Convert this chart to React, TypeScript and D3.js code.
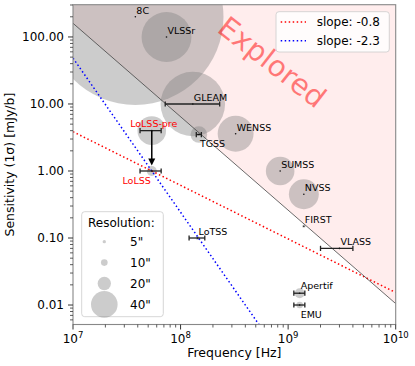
import React from 'react';
import * as d3 from 'd3';

// survey table (frequencies in MHz, sensitivity in mJy/beam, resolution in arcsec)
const surveys = ['8C', 'VLSSr', 'GLEAM', 'TGSS', 'WENSS', 'SUMSS', 'NVSS', 'FIRST', 'VLASS', 'LoTSS', 'LoLSS-pre', 'LoLSS', 'Apertif', 'EMU'];
const freqMHz = [38, 74, 130, 148, 325, 843, 1400, 1400, 3000, 144, 54, 54, 1280, 1280];
const freqLoMHz = [null, null, 72, 140, null, null, null, null, 2000, 120, 42, 42, 1130, 1130];
const freqHiMHz = [null, null, 231, 156, null, null, null, null, 4000, 168, 66, 66, 1430, 1430];
const sensitivity = [200, 100, 10, 3.5, 3.6, 1.0, 0.45, 0.15, 0.07, 0.1, 4, 1, 0.015, 0.01];
const resolution = [265, 75, 97, 25, 54, 43, 45, 5, 2.5, 6, 43, 15, 15, 10];

// edge of the explored region
const exploredFreq = [1e7, 1e10];
const exploredSens = [160, 0.0105];

// reference power laws through LoLSS
const slopes = [-0.8, -2.3];
const slopeColors = ['red', 'blue'];
const pivotFreq = 54e6;
const pivotSens = 1;

const legendRes = [5, 10, 20, 40];
const xMajor = [1e7, 1e8, 1e9, 1e10];
const yMajor = [100, 10, 1, 0.1, 0.01];

const W = 415;
const H = 366;
const left = 73, right = 395.7, top = 4.7, bottom = 324.5;

const x = d3.scaleLog().domain([1e7, 1e10]).range([left, right]);
const y = d3.scaleLog().domain([0.00512, 303]).range([bottom, top]);
const rScale = d3.scaleLinear().domain([0, 40]).range([0, 13.3]);

// where each label sits relative to its point
const labelPos: Record<string, { dx: number; dy: number; anchor: string; color: string }> = {
  TGSS: { dx: 1, dy: 12, anchor: 'start', color: '#000' },
  EMU: { dx: 1, dy: 13, anchor: 'start', color: '#000' },
  Apertif: { dx: 1, dy: -4, anchor: 'start', color: '#000' },
  'LoLSS-pre': { dx: 2, dy: -4, anchor: 'middle', color: 'red' },
  LoLSS: { dx: -1, dy: 13, anchor: 'end', color: 'red' },
};
const defaultPos = { dx: 1, dy: -3, anchor: 'start', color: '#000' };

const font = 'DejaVu Sans, sans-serif';

export default function App() {
  const line = d3.line<[number, number]>().x(d => x(d[0])).y(d => y(d[1]));
  const explored = d3.zip(exploredFreq, exploredSens) as [number, number][];
  const regionPath =
    line(explored) +
    `L${x(exploredFreq[1])},${top}L${x(exploredFreq[0])},${top}Z`;

  const allTicksX = x.ticks();
  const allTicksY = y.ticks();
  const isMajor = (v: number) => Math.abs(Math.log10(v) - Math.round(Math.log10(v))) < 1e-6;

  const idxPre = surveys.indexOf('LoLSS-pre');
  const idxLo = surveys.indexOf('LoLSS');
  const arrowX = x(freqMHz[idxPre] * 1e6);
  const arrowY0 = y(sensitivity[idxPre]);
  const arrowY1 = y(sensitivity[idxLo]) - 5.5;

  const order = d3.range(surveys.length).sort((a, b) => resolution[b] - resolution[a]);

  return (
    <svg width={W} height={H} style={{ position: 'absolute', left: 0, top: 0 }} fontFamily={font}>
      <defs>
        <clipPath id="plot">
          <rect x={left} y={top} width={right - left} height={bottom - top} />
        </clipPath>
      </defs>
      <rect width={W} height={H} fill="#fff" />
      <g clipPath="url(#plot)">
        <path d={regionPath} fill="rgba(255,0,0,0.07)" />
        {order.map(i => (
          <circle
            key={'c' + i}
            cx={x(freqMHz[i] * 1e6)}
            cy={y(sensitivity[i])}
            r={rScale(resolution[i])}
            fill="gray"
            fillOpacity={0.4}
          />
        ))}
        <text
          x={x(7.1e8)}
          y={y(42)}
          transform={`rotate(38 ${x(7.1e8)} ${y(42)})`}
          textAnchor="middle"
          dominantBaseline="central"
          fontSize={29}
          fill="rgba(255,0,0,0.5)"
        >
          Explored
        </text>
        {slopes.map((s, k) => {
          const pts = [1e7, 1e10].map(f => [f, pivotSens * Math.pow(f / pivotFreq, s)] as [number, number]);
          return (
            <path key={'s' + k} d={line(pts) || ''} stroke={slopeColors[k]} strokeWidth={1.5}
              strokeDasharray="1.5 2.5" fill="none" />
          );
        })}
        <path d={line(explored) || ''} stroke="#444" strokeWidth={0.8} fill="none" />
      </g>

      {surveys.map((name, i) => {
        const cx = x(freqMHz[i] * 1e6);
        const cy = y(sensitivity[i]);
        const lo = freqLoMHz[i];
        const hi = freqHiMHz[i];
        const p = labelPos[name] || defaultPos;
        return (
          <g key={name}>
            {lo != null && hi != null && (
              <g stroke="#222" strokeWidth={1.3}>
                <line x1={x(lo * 1e6)} x2={x(hi * 1e6)} y1={cy} y2={cy} />
                <line x1={x(lo * 1e6)} x2={x(lo * 1e6)} y1={cy - 2.6} y2={cy + 2.6} />
                <line x1={x(hi * 1e6)} x2={x(hi * 1e6)} y1={cy - 2.6} y2={cy + 2.6} />
              </g>
            )}
            <circle cx={cx} cy={cy} r={0.8} fill="#111" />
            <text x={cx + p.dx} y={cy + p.dy} textAnchor={p.anchor} fontSize={9.5} fill={p.color}>
              {name}
            </text>
          </g>
        );
      })}

      {/* LoLSS-pre -> LoLSS arrow */}
      <line x1={arrowX} x2={arrowX} y1={arrowY0} y2={arrowY1 - 6} stroke="#000" strokeWidth={1.5} />
      <path d={`M${arrowX - 3.5},${arrowY1 - 7}L${arrowX + 3.5},${arrowY1 - 7}L${arrowX},${arrowY1}Z`} fill="#000" />

      {/* frame */}
      <rect x={left} y={top} width={right - left} height={bottom - top} fill="none" stroke="#888" strokeWidth={1.1} />

      {/* x axis */}
      {allTicksX.map((t, i) => (
        <line key={'xt' + i} x1={x(t)} x2={x(t)} y1={bottom} y2={bottom + (isMajor(t) ? 5 : 3)} stroke="#333" strokeWidth={isMajor(t) ? 1 : 0.8} />
      ))}
      {xMajor.map(t => (
        <text key={'xl' + t} x={x(t)} y={343} textAnchor="middle" fontSize={12} fill="#000">
          10<tspan fontSize={8.5} dy={-5}>{Math.round(Math.log10(t))}</tspan>
        </text>
      ))}
      <text x={(left + right) / 2} y={356.5} textAnchor="middle" fontSize={12.5}>Frequency [Hz]</text>

      {/* y axis */}
      {allTicksY.map((t, i) => (
        <line key={'yt' + i} x1={left} x2={left - (isMajor(t) ? 5 : 3)} y1={y(t)} y2={y(t)} stroke="#333" strokeWidth={isMajor(t) ? 1 : 0.8} />
      ))}
      {yMajor.map(t => (
        <text key={'yl' + t} x={64} y={y(t)} dy="0.35em" textAnchor="end" fontSize={12}>
          {d3.format('.2f')(t)}
        </text>
      ))}
      <text transform={`translate(14,${(top + bottom) / 2}) rotate(-90)`} textAnchor="middle" fontSize={12.5}>
        Sensitivity (1σ) [mJy/b]
      </text>

      {/* slope legend */}
      <rect x={276} y={11.7} width={113.3} height={40.3} rx={3} fill="#fff" fillOpacity={0.8} stroke="#ccc" strokeWidth={0.8} />
      {slopes.map((s, k) => (
        <g key={'lg' + k}>
          <line x1={280.7} x2={306} y1={22 + k * 18.7} y2={22 + k * 18.7} stroke={slopeColors[k]} strokeWidth={1.5} strokeDasharray="1.5 2.5" />
          <text x={316.7} y={22 + k * 18.7} dy="0.35em" fontSize={12}>slope: {s}</text>
        </g>
      ))}

      {/* resolution legend */}
      <rect x={81.7} y={211.7} width={81.6} height={105} rx={3} fill="#fff" fillOpacity={0.8} stroke="#ccc" strokeWidth={0.8} />
      <text x={88} y={222.7} dy="0.35em" fontSize={12}>Resolution:</text>
      {legendRes.map((r, k) => (
        <g key={'rl' + r}>
          <circle cx={104.3} cy={241.7 + k * 20.9} r={rScale(r)} fill="gray" fillOpacity={0.4} />
          <text x={130} y={241.7 + k * 20.9} dy="0.35em" fontSize={12}>{r}"</text>
        </g>
      ))}
    </svg>
  );
}
